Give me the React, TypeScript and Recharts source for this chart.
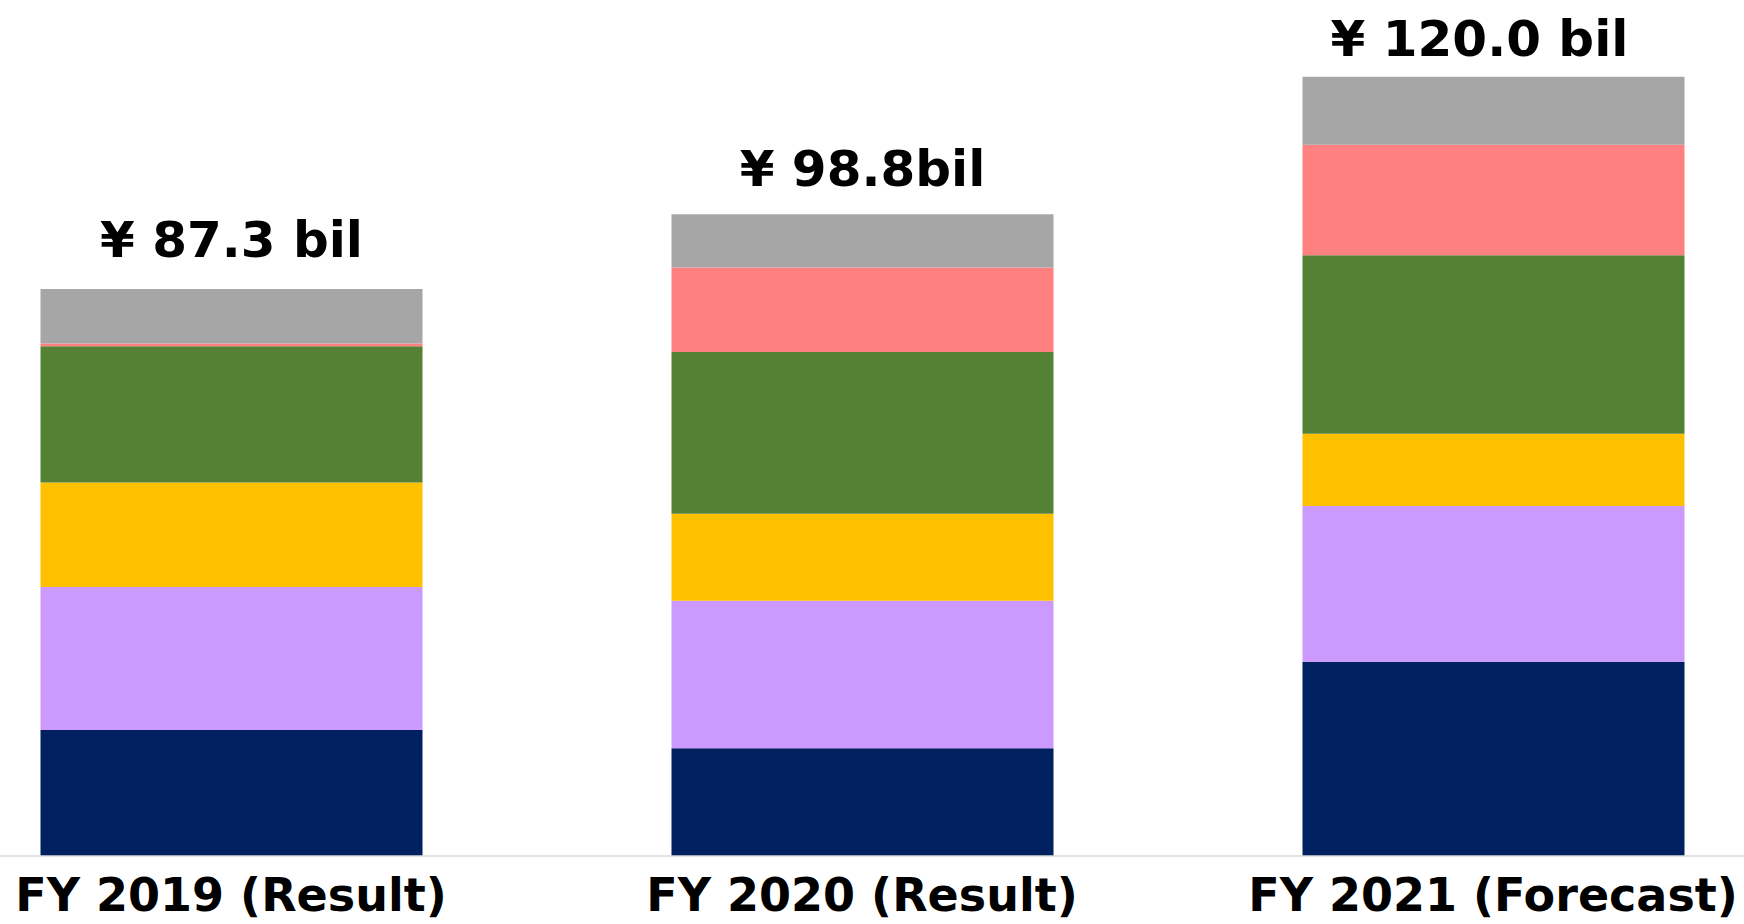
import React from "react";
import { BarChart, Bar, XAxis, YAxis, LabelList } from "recharts";

const categories = ["FY 2019 (Result)", "FY 2020 (Result)", "FY 2021 (Forecast)"];
const totalLabels = ["¥ 87.3 bil", "¥ 98.8bil", "¥ 120.0 bil"];
const seriesNavy = [19.4, 16.6, 29.9];
const seriesPurple = [22.0, 22.7, 24.0];
const seriesYellow = [16.1, 13.4, 11.1];
const seriesGreen = [21.0, 24.9, 27.5];
const seriesRed = [0.4, 13.0, 17.0];
const seriesGray = [8.4, 8.2, 10.5];

const data = categories.map((c, i) => ({
  name: c,
  navy: seriesNavy[i],
  purple: seriesPurple[i],
  yellow: seriesYellow[i],
  green: seriesGreen[i],
  red: seriesRed[i],
  gray: seriesGray[i],
  label: totalLabels[i],
}));

const FONT = "'DejaVu Sans', Verdana, sans-serif";
const labelGap = [32, 28, 21];
const labelDx = [0, 0, -14];

const TotalLabel = (props: any) => {
  const { x, y, width, index } = props;
  return (
    <text
      x={Number(x) + Number(width) / 2 + labelDx[index]}
      y={Number(y) - labelGap[index]}
      textAnchor="middle"
      fontFamily={FONT}
      fontWeight="bold"
      fontSize={50}
      fill="#000"
    >
      {totalLabels[index]}
    </text>
  );
};

export default function App() {
  return (
    <div style={{ position: "absolute", left: 0, top: 0, width: 1744, height: 924, background: "#fff" }}>
      <BarChart
        width={1744}
        height={924}
        data={data}
        margin={{ top: 0, right: 0, bottom: 0, left: 0 }}
        barSize={382}
      >
        <XAxis
          dataKey="name"
          height={68}
          padding={{ left: -84.5, right: -64.5 }}
          axisLine={{ stroke: "#d9d9d9", strokeWidth: 1.5 }}
          tickLine={false}
          tickMargin={16}
          interval={0}
          tick={{ fontFamily: FONT, fontWeight: "bold", fontSize: 46, fill: "#000" }}
        />
        <YAxis hide domain={[0, 131.8]} />
        <Bar dataKey="navy" stackId="a" fill="#002060" isAnimationActive={false} />
        <Bar dataKey="purple" stackId="a" fill="#CC99FF" isAnimationActive={false} />
        <Bar dataKey="yellow" stackId="a" fill="#FFC000" isAnimationActive={false} />
        <Bar dataKey="green" stackId="a" fill="#548235" isAnimationActive={false} />
        <Bar dataKey="red" stackId="a" fill="#FF8080" isAnimationActive={false} />
        <Bar dataKey="gray" stackId="a" fill="#A6A6A6" isAnimationActive={false}>
          <LabelList dataKey="label" content={<TotalLabel />} />
        </Bar>
      </BarChart>
    </div>
  );
}
